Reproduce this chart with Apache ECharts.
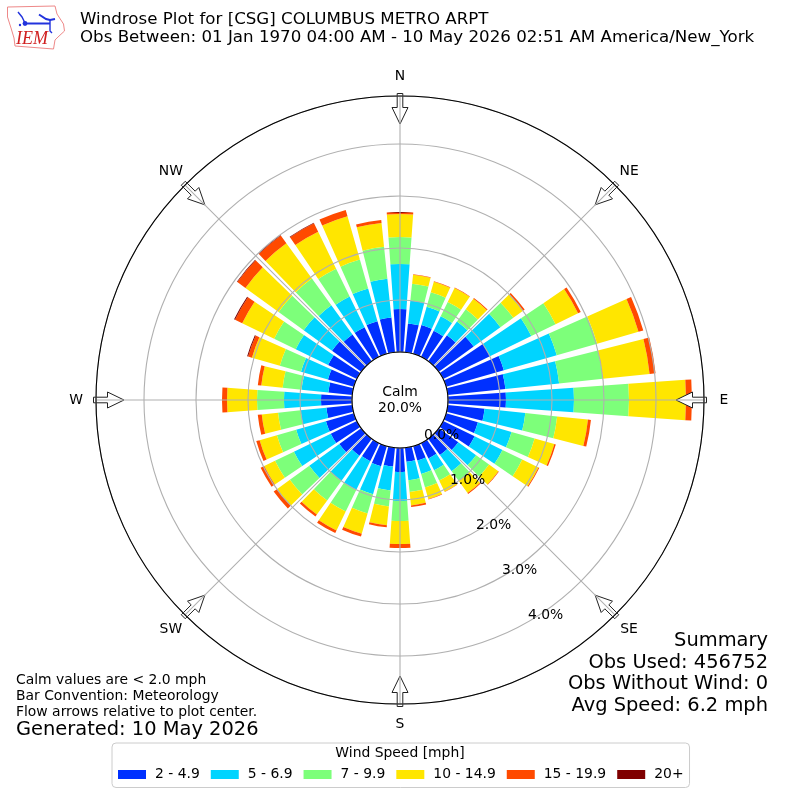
<!DOCTYPE html>
<html><head><meta charset="utf-8">
<style>html,body{margin:0;padding:0;background:#fff}#c{width:800px;height:800px}</style>
<script src="https://cdn.jsdelivr.net/npm/echarts@6/dist/echarts.min.js"></script>
</head><body><div id="c"></div>
<script>
// Directions every 10 degrees, clockwise from north
const directions = Array.from({length:36},(_,i)=>String(i*10));
const speedBins = ['2 - 4.9','5 - 6.9','7 - 9.9','10 - 14.9','15 - 19.9','20+'];
const binColors = ['#0030ff','#00d4ff','#7dff7a','#ffe600','#ff4a00','#7f0000'];
// Frequency (%) per direction
const bin2to5 = [.827,.558,.577,.558,.615,.827,1.0,1.154,1.115,1.115,.712,.635,.673,.462,.385,.327,.288,.269,.462,.365,.404,.385,.404,.519,.558,.558,.5,.596,.462,.519,.615,.692,.635,.635,.654,.673];
const bin5to7 = [.865,.442,.365,.308,.327,.635,.885,1.058,1.038,1.308,.788,.673,.596,.423,.385,.25,.269,.358,.558,.462,.558,.615,.596,.712,.788,.596,.5,.712,.519,.538,.692,.673,.692,.654,.654,.75];
const bin7to10 = [.519,.327,.288,.308,.288,.308,.519,.808,.846,1.058,.615,.462,.423,.308,.231,.221,.269,.229,.385,.308,.385,.462,.462,.462,.404,.385,.435,.519,.365,.423,.462,.596,.635,.596,.577,.615];
const bin10to15 = [.442,.173,.212,.298,.25,.231,.481,.827,.904,1.096,.596,.394,.346,.221,.288,.24,.231,.26,.442,.365,.404,.404,.337,.308,.231,.346,.315,.577,.413,.558,.683,.788,.837,.788,.865,.462];
const bin15to20 = [.038,.01,.01,.01,.019,.038,.058,.096,.115,.115,.058,.029,.019,.01,.019,.008,.01,.031,.077,.038,.058,.058,.048,.077,.077,.067,.077,.096,.067,.077,.154,.192,.183,.183,.127,.058];
const bin20up = [0,0,0,0,0,0,0,0,0,0,0,0,0,0,0,0,0,0,0,0,0,0,0,0,0,0,0,0,0,.019,.019,.012,.012,.01,0,0];
const radialTicksMax = 4.923;
const compassLabels = [[0,'N'],[45,'NE'],[90,'E'],[135,'SE'],[180,'S'],[225,'SW'],[270,'W'],[315,'NW']];
const arrowAngles = [0,45,90,135,180,225,270,315];
const titleLines = ['Windrose Plot for [CSG] COLUMBUS METRO ARPT','Obs Between: 01 Jan 1970 04:00 AM - 10 May 2026 02:51 AM America/New_York'];
const notes = ['Calm values are < 2.0 mph','Bar Convention: Meteorology','Flow arrows relative to plot center.'];
const generated = 'Generated: 10 May 2026';
const summary = ['Summary','Obs Used: 456752','Obs Without Wind: 0','Avg Speed: 6.2 mph'];
const calmText = 'Calm\n20.0%';

const allBins = [bin2to5,bin5to7,bin7to10,bin10to15,bin15to20,bin20up];
const FONT = 'DejaVu Sans';
const cx=400, cy=400, R=304, R0=48;
const chart = echarts.init(document.getElementById('c'),null,{renderer:'canvas'});

function arrow(deg){
  const a=deg*Math.PI/180, ux=Math.sin(a), uy=-Math.cos(a), vx=-uy, vy=ux;
  const P=(r,w)=>[cx+ux*r+vx*w, cy+uy*r+vy*w];
  return {type:'polygon', z:3, silent:true,
    shape:{points:[P(306.5,-2.8),P(306.5,2.8),P(292.5,2.8),P(292.5,8),P(276,0),P(292.5,-8),P(292.5,-2.8)]},
    style:{fill:'#fff',stroke:'#222',lineWidth:1}};
}
const txt=(x,y,text,size,extra)=>({type:'text',x,y,z:10,silent:true,style:Object.assign({text,fontFamily:FONT,fontSize:size,fill:'#000',textVerticalAlign:'middle'},extra||{})});

const ln=(pts,c,w)=>({type:'polyline',z:10,silent:true,shape:{points:pts},style:{stroke:c,lineWidth:w,fill:null}});
const logo=[
 ln([[7.5,7],[55,6],[57,14],[63.5,24],[64.5,31],[58,37],[55,40],[53.5,49],[15,46],[14,38],[11,28],[7.5,17],[7.5,7]],'#e88',1),
 ln([[18,12],[22,17],[25,23]],'#2233dd',1.4),
 ln([[25,23.5],[50,23.5]],'#2233dd',2),
 ln([[39,14.5],[46,19],[50,20],[55,19]],'#2233dd',2),
 ln([[50,20],[50,31],[52,33]],'#2233dd',1.4),
 {type:'circle',z:10,silent:true,shape:{cx:25,cy:23.5,r:2.4},style:{fill:'#2233dd'}},
 {type:'circle',z:10,silent:true,shape:{cx:20,cy:25,r:1.2},style:{fill:'#2233dd'}},
 {type:'text',z:10,silent:true,x:16,y:39,style:{text:'IEM',fontFamily:'Liberation Serif',fontStyle:'italic',fontSize:18,fill:'#d02020',textVerticalAlign:'middle'}}
];

const elements=[].concat(
  arrowAngles.map(arrow),
  logo,
  titleLines.map((t,i)=>txt(80,19.5+i*18,t,16.67)),
  notes.map((t,i)=>txt(16,680.5+i*16,t,13.9)),
  [txt(16,730,generated,19.44)],
  summary.map((t,i)=>txt(768,641+i*21.7,t,19.44,{textAlign:'right'})),
  [txt(cx,cy,calmText,13.9,{textAlign:'center',lineHeight:16}),
   txt(400,753,'Wind Speed [mph]',13.9,{textAlign:'center'})],
  compassLabels.map(([d,t])=>txt(cx+324*Math.sin(d*Math.PI/180),cy-324*Math.cos(d*Math.PI/180)+(d%180===0?0.5:0),t,13.9,{textAlign:'center'}))
);

chart.setOption({
  animation:false,
  backgroundColor:'#fff',
  polar:[
    {center:[cx,cy],radius:[R0,R]},
    {center:[cx,cy],radius:[R0,R]},
    {center:[cx,cy],radius:[R0,R]}
  ],
  angleAxis:[
    {polarIndex:0,type:'category',data:directions,startAngle:95,clockwise:true,boundaryGap:true,show:false},
    {polarIndex:1,type:'value',min:0,max:360,interval:45,startAngle:90,clockwise:true,z:5,
      axisLine:{show:false},axisTick:{show:false},axisLabel:{show:false},
      splitLine:{show:true,lineStyle:{color:'#b0b0b0',width:1.1}}},
    {polarIndex:2,type:'value',min:0,max:360,interval:360,startAngle:-60,clockwise:true,z:6,
      axisLine:{show:true,lineStyle:{color:'#000',width:1.1}},axisTick:{show:false},splitLine:{show:false},axisLabel:{show:false}}
  ],
  radiusAxis:[
    {polarIndex:0,type:'value',min:0,max:radialTicksMax,show:false},
    {polarIndex:1,type:'value',min:0,max:radialTicksMax,interval:1,z:5,
      axisLine:{show:false},axisTick:{show:false},axisLabel:{show:false},
      splitLine:{show:true,lineStyle:{color:'#b0b0b0',width:1.1}}},
    {polarIndex:2,type:'value',min:0,max:radialTicksMax,interval:1,z:7,
      axisLine:{show:false},axisTick:{show:false},splitLine:{show:false},
      axisLabel:{show:true,showMaxLabel:false,margin:0,align:'left',verticalAlign:'bottom',lineHeight:13,fontFamily:FONT,fontSize:13.9,color:'#000',
        formatter:v=>v.toFixed(1)+'%'}}
  ],
  legend:{left:112,top:743,orient:'horizontal',icon:'rect',itemWidth:28,itemHeight:9,itemGap:11,width:580,
    padding:[24.5,6,6,6],borderWidth:1,borderColor:'#ccc',borderRadius:4,backgroundColor:'#fff',
    selectedMode:false,data:speedBins,
    textStyle:{fontFamily:FONT,fontSize:13.9,color:'#000',padding:[0,0,0,4]}},
  graphic:{elements},
  series:speedBins.map((name,i)=>({
    name,type:'bar',coordinateSystem:'polar',polarIndex:0,stack:'rose',
    data:allBins[i],barWidth:'81%',itemStyle:{color:binColors[i]},
    silent:true,z:2
  }))
});
</script></body></html>
